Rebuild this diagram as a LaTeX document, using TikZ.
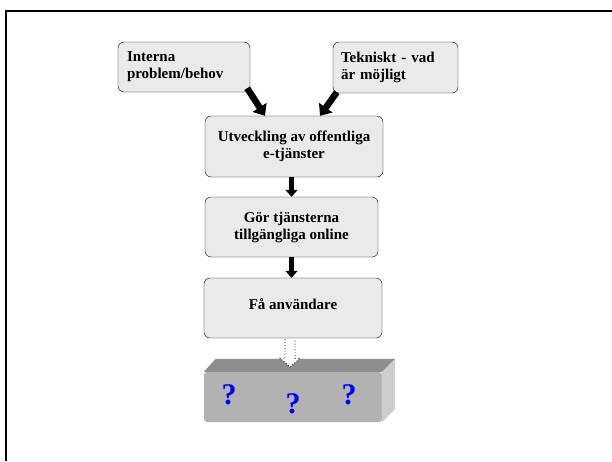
\documentclass[tikz,border=0pt]{standalone}
\usepackage{fontspec}
\setmainfont{Liberation Serif}
\usetikzlibrary{arrows.meta}
\usetikzlibrary{calc}
\definecolor{boxgray}{HTML}{EAEAEA}
\definecolor{blockfront}{HTML}{B2B2B2}
\definecolor{blocktop}{HTML}{8E8E8E}
\definecolor{blockside}{HTML}{CDCDCD}
\tikzset{stepbox/.style = {draw, fill=boxgray, rounded corners=6pt, inner sep=0pt,
                           font=\bfseries\fontsize{15}{17}\selectfont},
         fatarrow/.style = {line width=5pt, -{Triangle[width=12pt,length=7pt]}},
         slantarrow/.style = {line width=6.5pt, -{Triangle[width=16pt,length=10pt]}},
         qmark/.style = {text=blue, font=\bfseries\fontsize{30}{32}\selectfont}}

\begin{document}
\begin{tikzpicture}[x=1pt, y=-1pt]
      \useasboundingbox (0, 0) rectangle (612, 461);
      \draw [line width=2pt] (6, 461) -- (6, 10.5) -- (612, 10.5);
      \node [stepbox, minimum width=132pt, minimum height=50pt, text width=114pt, align=left]
            (intern) at (184, 67) {Interna\\problem/behov};
      \node [stepbox, minimum width=125pt, minimum height=51pt, text width=109pt, align=left]
            (teknik) at (395.5, 67.5) {Tekniskt - vad\\är möjligt};
      \node [stepbox, minimum width=178pt, minimum height=61pt, align=center]
            (utveckling) at (294, 146.5) {Utveckling av offentliga\\e-tjänster};
      \node [stepbox, minimum width=173pt, minimum height=60pt, align=center]
            (online) at (291.5, 227) {Gör tjänsterna\\tillgängliga online};
      \node [stepbox, minimum width=178pt, minimum height=60pt, text height=12pt, text depth=10pt]
            (anvandare) at (293, 308) {Få användare};
      \draw [slantarrow] ($(intern.south east)+(-3, -4)$) -- ($(utveckling.north)+(-29, 0)$);
      \draw [slantarrow] ($(teknik.south west)+(4, -1)$) -- ($(utveckling.north)+(26, 0)$);
      \draw [fatarrow] (utveckling.south -| online.north) -- (online.north);
      \draw [fatarrow] (online.south) -- (online.south |- anvandare.north);
      % the grey block
      \node [fill=blockfront, rounded corners=3pt, minimum width=178pt, minimum height=50pt, inner sep=0pt]
            (block) at (293, 397) {};
      \fill [blocktop] (block.north west) -- ++(12, -13) -- ($(block.north east)+(13, -13)$)
            -- (block.north east) -- cycle;
      \fill [blockside] (block.north east) -- ++(13, -13) -- ++(0, 50) -- (block.south east) -- cycle;
      \node [qmark] (q1) at (229, 395) {?};
      \node [qmark] (q2) at (293, 404) {?};
      \node [qmark] (q3) at (349, 395) {?};
      \coordinate (tip) at ($(anvandare.south)+(-3, 29)$);
      \draw [dotted, line width=0.9pt, fill=white] ($(anvandare.south)+(-8, 1)$) -- ++(0, 19) -- ++(-5, 0)
            -- (tip) -- ($(tip)+(10, -9)$) -- ++(-5, 0) -- ($(anvandare.south)+(2, 1)$);
    \end{tikzpicture}
\end{document}
